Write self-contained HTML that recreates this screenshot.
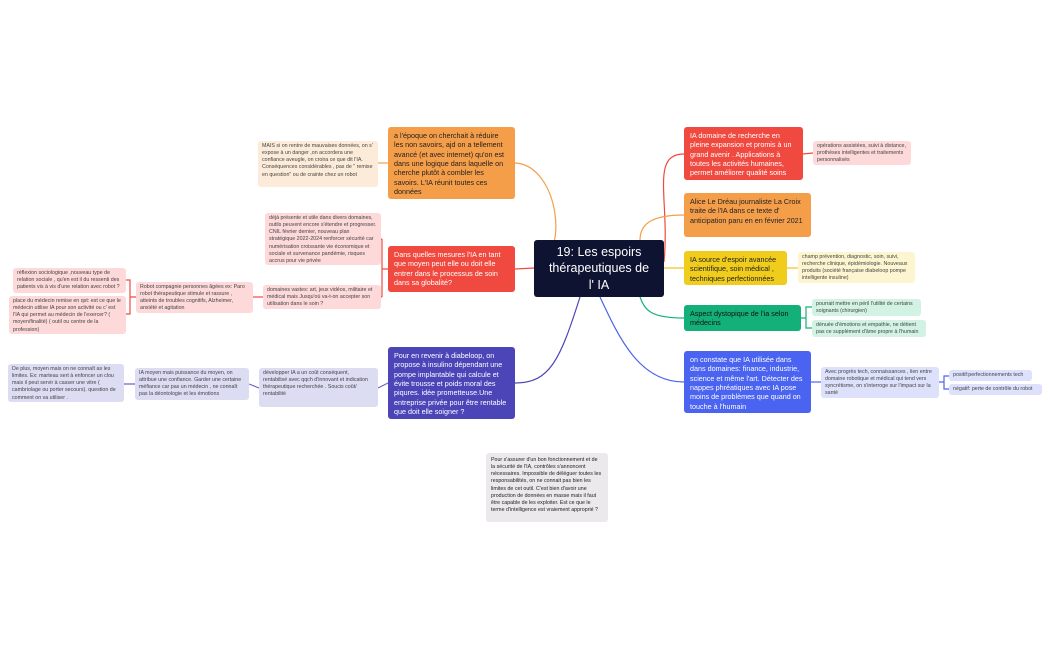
<!DOCTYPE html>
<html><head><meta charset="utf-8"><style>
body{margin:0;width:1050px;height:650px;background:#fff;position:relative;overflow:hidden;font-family:"Liberation Sans",sans-serif}
.n{position:absolute;box-sizing:border-box;border-radius:3px;line-height:1.3}
.b{font-size:7.2px;padding:4px 6px;color:#222}
.s{font-size:5.3px;padding:2px 4px;color:#444;line-height:1.35}
svg{position:absolute;left:0;top:0}
</style></head><body>
<svg width="1050" height="650" fill="none" stroke-width="1.2">
<path d="M534 262 C570 262 560 165 515 163" stroke="#f59e4a"/>
<path d="M534 268 L515 269" stroke="#f04a40"/>
<path d="M580 297 C560 360 550 383 515 383" stroke="#4b45b8"/>
<path d="M664 262 C670 200 650 154 684 154" stroke="#f04a40"/>
<path d="M640 240 C640 225 650 215 684 215" stroke="#f59e4a"/>
<path d="M664 268 L684 268" stroke="#f0c419"/>
<path d="M640 297 C645 310 650 318 684 318" stroke="#14b07a"/>
<path d="M600 297 C620 340 640 382 684 382" stroke="#4a63f0"/>
<path d="M388 163 L378 163" stroke="#f59e4a"/>
<path d="M388 269 L382 269 L382 239 M382 269 L382 297 M382 239 L381 239 M382 297 L381 297" stroke="#f04a40"/>
<path d="M263 297 L253 297" stroke="#f04a40"/>
<path d="M136 297 L130 297 L130 280 L126 280 M130 297 L130 314 L126 314" stroke="#f04a40"/>
<path d="M388 383 L378 388 M259 388 L249 384 M135 384 L124 384" stroke="#6a65cc"/>
<path d="M803 154 L813 153" stroke="#f04a40"/>
<path d="M787 268 L798 268" stroke="#f0c419"/>
<path d="M801 318 L806 318 L806 307 L812 307 M806 318 L806 328 L812 328" stroke="#14b07a"/>
<path d="M811 382 L821 382" stroke="#4a63f0"/>
<path d="M939 382 L944 382 L944 376 L949 376 M944 382 L944 389 L949 389" stroke="#4a63f0"/>
</svg>
<div class="n" style="left:534px;top:240px;width:130px;height:57px;background:#0d1330;color:#fff;font-size:12.5px;text-align:center;padding:4px 12px;line-height:1.3">19: Les espoirs thérapeutiques de l' IA</div>

<div class="n b" style="left:388px;top:127px;width:127px;height:72px;background:#f59e4a;color:#222">a l'époque on cherchait à réduire les non savoirs, ajd on a tellement avancé (et avec internet) qu'on est dans une logique dans laquelle on cherche plutôt à combler les savoirs. L'IA réunit toutes ces données</div>
<div class="n b" style="left:388px;top:246px;width:127px;height:46px;background:#f04a40;color:#fff">Dans quelles mesures l'IA en tant que moyen peut elle ou doit elle entrer dans le processus de soin dans sa globalité?</div>
<div class="n b" style="left:388px;top:347px;width:127px;height:72px;background:#4b45b8;color:#fff">Pour en revenir à diabeloop, on propose à insulino dépendant une pompe implantable  qui calcule et évite trousse et poids moral des piqures. idée prometteuse.Une entreprise privée pour être rentable que doit elle soigner ?</div>

<div class="n s" style="left:258px;top:141px;width:120px;height:46px;background:#fdebd9">MAIS si on rentre de mauvaises données, on s' expose à un danger ,on accordera une confiance aveugle, on croira ce que dit l'IA. Conséquences considérables , pas de " remise en question" ou de crainte chez un robot</div>
<div class="n s" style="left:265px;top:213px;width:116px;height:52px;background:#fdd9d9">déjà présente et utile dans divers domaines, outils peuvent encore s'étendre et progresser. CNIL février dernier, nouveau plan stratégique 2022-2024 renforcer sécurité car numérisation croissante vie économique et sociale et survenance pandémie, risques accrus pour vie privée</div>
<div class="n s" style="left:263px;top:285px;width:118px;height:24px;background:#fdd9d9">domaines vastes: art, jeux vidéos, militaire et médical mais Jusqu'où va-t-on accepter son utilisation dans le soin ?</div>
<div class="n s" style="left:136px;top:282px;width:117px;height:31px;background:#fdd9d9">Robot  compagnie personnes âgées ex: Paro robot thérapeutique stimule et rassure , atteints de troubles cognitifs, Alzheimer, anxiété et agitation</div>
<div class="n s" style="left:13px;top:268px;width:113px;height:25px;background:#fdd9d9">réflexion sociologique ,nouveau type de relation sociale , qu'en est il du ressenti des patients vis à vis d'une relation avec robot ?</div>
<div class="n s" style="left:9px;top:296px;width:117px;height:38px;background:#fdd9d9">place du médecin remise en qst: est ce que le médecin utilise IA pour son activité ou c' est l'IA qui permet au médecin de l'exercer? ( moyen/finalité) ( outil ou centre de la profession)</div>
<div class="n s" style="left:259px;top:368px;width:119px;height:39px;background:#dcdcf2">développer IA a un coût conséquent, rentabilisé avec qqch d'innovant et indication thérapeutique recherchée . Soucis coût/ rentabilité</div>
<div class="n s" style="left:135px;top:368px;width:114px;height:32px;background:#dcdcf2">IA moyen mais puissance du moyen, on attribue une confiance. Garder une certaine méfiance car pas un médecin , ne connaît pas la déontologie et les émotions</div>
<div class="n s" style="left:8px;top:364px;width:116px;height:38px;background:#dcdcf2">De plus, moyen mais on ne connaît as les limites. Ex: marteau sert à enfoncer un clou mais il peut servir à casser une vitre ( cambriolage ou porter secours). question de comment on va utiliser .</div>
<div class="n s" style="left:486px;top:453px;width:122px;height:69px;background:#ebe9ec;color:#222;padding:4px 5px">Pour s'assurer d'un bon fonctionnement et de la sécurité de l'IA, contrôles s'annoncent nécessaires. Impossible de déléguer toutes les responsabilités, on ne connait pas bien les limites de cet outil. C'est bien d'avoir une production de données en masse mais il faut être capable de les exploiter. Est ce que le terme d'intelligence est vraiement approprié ?</div>

<div class="n b" style="left:684px;top:127px;width:119px;height:53px;background:#f04a40;color:#fff">IA domaine de recherche en pleine expansion et promis à un grand avenir .  Applications à toutes les activités humaines, permet améliorer qualité soins</div>
<div class="n b" style="left:684px;top:193px;width:127px;height:44px;background:#f59e4a;color:#222">Alice Le Dréau journaliste La Croix traite de l'IA dans ce texte d' anticipation paru en en février 2021</div>
<div class="n b" style="left:684px;top:251px;width:103px;height:34px;background:#f0cc1c;color:#222">IA source d'espoir avancée scientifique, soin médical , techniques perfectionnées</div>
<div class="n b" style="left:684px;top:305px;width:117px;height:26px;background:#14b07a;color:#111">Aspect dystopique de l'ia selon médecins</div>
<div class="n b" style="left:684px;top:351px;width:127px;height:62px;background:#4a63f0;color:#fff">on constate que IA utilisée dans dans domaines: finance, industrie, science et même l'art. Détecter des nappes phréatiques avec IA pose moins de problèmes que quand on touche à l'humain</div>

<div class="n s" style="left:813px;top:141px;width:98px;height:24px;background:#fdd9d9">opérations assistées, suivi à distance, prothèses intelligentes et traitements personnalisés</div>
<div class="n s" style="left:798px;top:252px;width:117px;height:31px;background:#fcf5d0">champ prévention, diagnostic, soin, suivi, recherche clinique, épidémiologie. Nouveaux produits (société française diabeloop pompe intelligente insuline)</div>
<div class="n s" style="left:812px;top:299px;width:109px;height:17px;background:#d2f2e4">pourrait mettre en péril l'utilité de certains soignants (chirurgien)</div>
<div class="n s" style="left:812px;top:320px;width:114px;height:17px;background:#d2f2e4">dénuée d'émotions et empathie, ne détient pas ce supplément d'âme propre à l'humain</div>
<div class="n s" style="left:821px;top:367px;width:118px;height:31px;background:#dde1fb">Avec progrès tech, connaissances , lien entre domaine robotique et médical qui tend vers syncrétisme, on s'interroge sur l'impact sur la santé</div>
<div class="n s" style="left:949px;top:370px;width:83px;height:11px;background:#dde1fb">positif:perfectionnements tech</div>
<div class="n s" style="left:949px;top:384px;width:93px;height:11px;background:#dde1fb">négatif: perte de contrôle du robot</div>
</body></html>
